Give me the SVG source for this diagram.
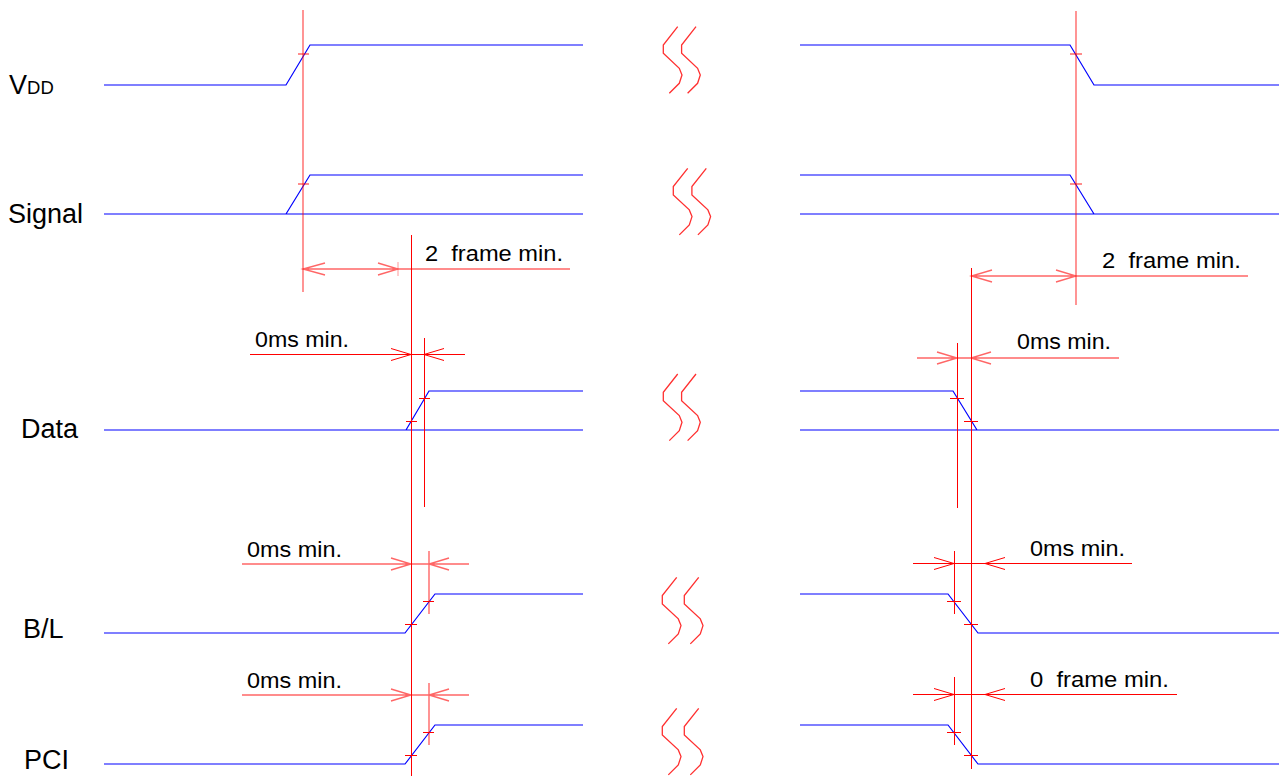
<svg xmlns="http://www.w3.org/2000/svg" xmlns:xlink="http://www.w3.org/1999/xlink" width="1282" height="776" viewBox="0 0 1282 776">
<style>
.sig{fill:none;stroke:#0000ff;stroke-width:1.2}
.red{fill:none;stroke:#ff0000;stroke-width:1}
.lt{fill:none;stroke:#ff0000;stroke-width:1.4;stroke-opacity:0.6}
.lbl{font-family:"Liberation Sans",Arial,sans-serif;font-size:27px;fill:#000}
.dim{font-family:"Liberation Sans",Arial,sans-serif;font-size:22.5px;fill:#000}
</style>
<defs>
<path id="sq" d="M0 0 L-14.4 18.3 L-14.4 26.6 L1.6 41.6 L4.3 48.3 L1.6 56.6 L-8.4 66.6" fill="none" stroke="#ff3030" stroke-width="1.3"/>
</defs>
<rect width="1282" height="776" fill="#fff"/>

<g id="vdd">
<text class="lbl" x="9" y="94">V<tspan font-size="18.5">DD</tspan></text>
<path class="sig" d="M104 85 H286 L310 45 H583"/>
<path class="sig" d="M800 45 H1070 L1094 85 H1279"/>
<use href="#sq" x="677.7" y="26.7"/><use href="#sq" x="696" y="26.7"/>
</g>

<g id="signal">
<text class="lbl" x="8" y="223">Signal</text>
<path class="sig" d="M104 214 H583 M286 214 L310 175 H583"/>
<path class="sig" d="M800 175 H1070 L1094 214 M800 214 H1279"/>
<use href="#sq" x="687.7" y="168.3"/><use href="#sq" x="706.3" y="168.3"/>
</g>

<g id="data">
<text class="lbl" x="21" y="438">Data</text>
<path class="sig" d="M104 430 H583 M406 430 L429 391 H583"/>
<path class="sig" d="M800 391 H953 L977 430 M800 430 H1279"/>
<use href="#sq" x="677.7" y="374"/><use href="#sq" x="696" y="374"/>
</g>

<g id="bl">
<text class="lbl" x="23" y="638">B/L</text>
<path class="sig" d="M104 633 H405 L435 594 H583"/>
<path class="sig" d="M800 594 H948 L978 633 H1279"/>
<use href="#sq" x="676.7" y="577.3"/><use href="#sq" x="698.7" y="577.3"/>
</g>

<g id="pci">
<text class="lbl" x="24" y="769">PCI</text>
<path class="sig" d="M104 764 H405 L435 725 H583"/>
<path class="sig" d="M800 725 H948 L978 764 H1279"/>
<use href="#sq" x="676.7" y="708.3"/><use href="#sq" x="698.7" y="708.3"/>
</g>

<g id="connectors">
<path class="lt" d="M303 10 V292"/>
<path class="lt" d="M298 54 H309 M298 184 H309"/>
<path class="lt" d="M303 269 H570 M325 263 L303 269 L325 275 M378 263 L398 269 L378 275"/>
<path class="red" d="M398 262 V276" stroke-opacity="0.4"/>
<path class="red" d="M411.5 235 V776"/>
<path class="red" d="M250 354.5 H465 M391 348.5 L411 354.5 L391 360.5 M444 348.5 L424 354.5 L444 360.5"/>
<path class="red" d="M424.5 338 V507 M406 421.5 H417 M419 398.5 H430"/>
<path class="lt" d="M242 564 H469 M391 558 L411 564 L391 570 M449 558 L429 564 L449 570 M429 551 V614"/>
<path class="red" d="M405 624.5 H417 M423 601.5 H434"/>
<path class="lt" d="M242 695 H469 M391 689 L411 695 L391 701 M449 689 L429 695 L449 701 M429 683 V745"/>
<path class="red" d="M405 755.5 H417 M423 732.5 H434"/>
<path class="lt" d="M1076 11 V305"/>
<path class="lt" d="M1070 54 H1082 M1070 184 H1082"/>
<path class="lt" d="M971 276 H1248 M992 270 L971.5 276 L992 282 M1056 270 L1076 276 L1056 282"/>
<path class="red" d="M971.5 268 V769"/>
<path class="lt" d="M917 358 H1119 M937 352 L957 358 L937 364 M991 352 L971 358 L991 364"/>
<path class="red" d="M957.5 343 V508 M950 398.5 H964 M964 421.5 H978"/>
<path class="red" d="M913 563.5 H1132 M934 557.5 L954 563.5 L934 569.5 M1005 557.5 L985 563.5 L1005 569.5"/>
<path class="red" d="M954.5 551 V614 M947 601.5 H961 M964 624.5 H978"/>
<path class="red" d="M913 694.5 H1177 M934 688.5 L954 694.5 L934 700.5 M1005 688.5 L985 694.5 L1005 700.5"/>
<path class="red" d="M954.5 677 V745 M947 732.5 H961 M964 755.5 H978"/>
</g>

<g id="labels">
<text class="dim" x="425" y="261" textLength="138" lengthAdjust="spacingAndGlyphs" xml:space="preserve">2  frame min.</text>
<text class="dim" x="1102" y="268" textLength="139" lengthAdjust="spacingAndGlyphs" xml:space="preserve">2  frame min.</text>
<text class="dim" x="255" y="347" textLength="94" lengthAdjust="spacingAndGlyphs">0ms min.</text>
<text class="dim" x="1017" y="349" textLength="94" lengthAdjust="spacingAndGlyphs">0ms min.</text>
<text class="dim" x="247" y="557" textLength="95" lengthAdjust="spacingAndGlyphs">0ms min.</text>
<text class="dim" x="1030" y="556" textLength="95" lengthAdjust="spacingAndGlyphs">0ms min.</text>
<text class="dim" x="247" y="688" textLength="95" lengthAdjust="spacingAndGlyphs">0ms min.</text>
<text class="dim" x="1030" y="687" textLength="139" lengthAdjust="spacingAndGlyphs" xml:space="preserve">0  frame min.</text>
</g>
</svg>
